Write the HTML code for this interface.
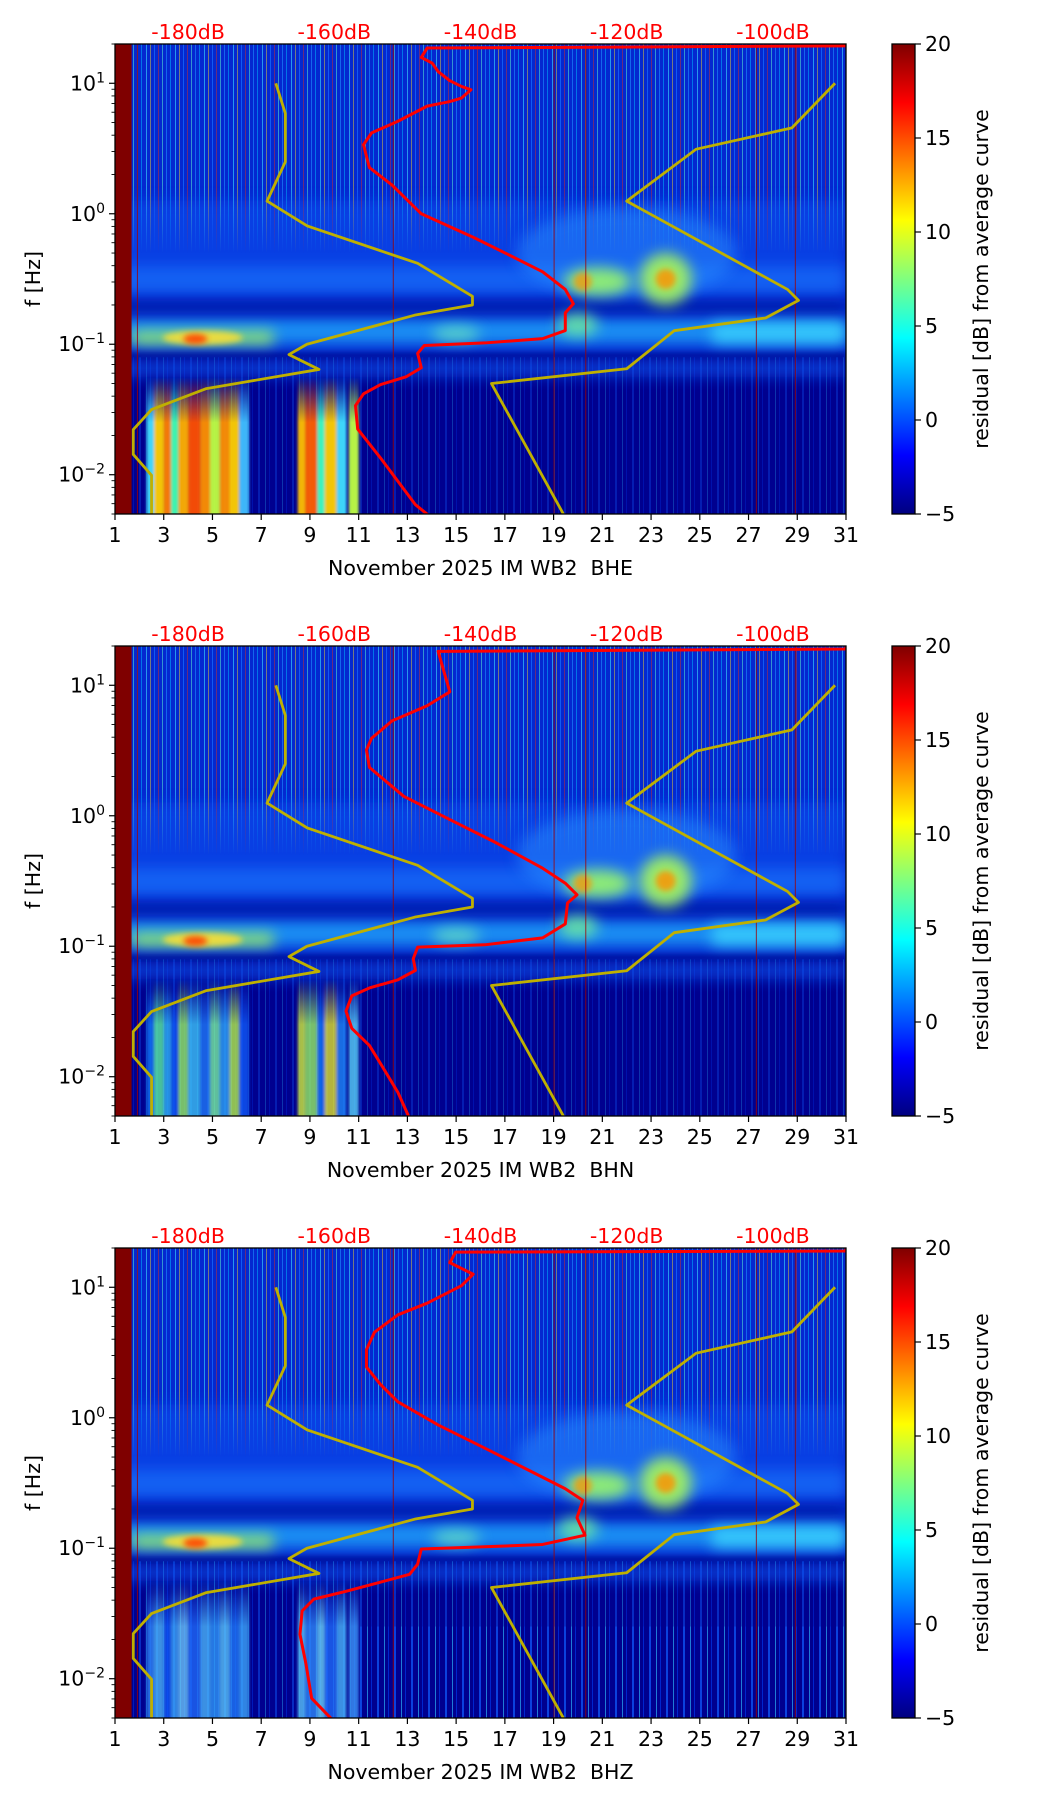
<!DOCTYPE html>
<html><head><meta charset="utf-8"><style>
html,body{margin:0;padding:0;background:#fff;}
svg{display:block;font-family:"DejaVu Sans","Liberation Sans",sans-serif;}
</style></head><body>
<svg id="fig" width="1052" height="1806" viewBox="0 0 1052 1806" xmlns="http://www.w3.org/2000/svg">
<defs>
  <linearGradient id="jet" x1="0" y1="1" x2="0" y2="0">
    <stop offset="0" stop-color="#00007f"/><stop offset="0.125" stop-color="#0000ff"/>
    <stop offset="0.375" stop-color="#00ffff"/><stop offset="0.625" stop-color="#ffff00"/>
    <stop offset="0.875" stop-color="#ff0000"/><stop offset="1" stop-color="#7f0000"/>
  </linearGradient>
  <pattern id="streaks" width="29" height="10" patternUnits="userSpaceOnUse">
    <rect x="1" y="0" width="1" height="10" fill="#40e0ff" opacity="0.6"/>
    <rect x="5" y="0" width="1" height="10" fill="#ffe020" opacity="0.45"/>
    <rect x="9" y="0" width="1" height="10" fill="#1a70ff" opacity="0.7"/>
    <rect x="13" y="0" width="1" height="10" fill="#ff3000" opacity="0.4"/>
    <rect x="17" y="0" width="1" height="10" fill="#60ffd0" opacity="0.5"/>
    <rect x="21" y="0" width="1" height="10" fill="#2090ff" opacity="0.6"/>
    <rect x="25" y="0" width="1" height="10" fill="#00c0ff" opacity="0.5"/>
  </pattern>
  <pattern id="lowstreaks" width="17" height="10" patternUnits="userSpaceOnUse">
    <rect x="3" y="0" width="2" height="10" fill="#1060ff" opacity="0.5"/>
    <rect x="10" y="0" width="1" height="10" fill="#30c0ff" opacity="0.45"/>
    <rect x="14" y="0" width="1" height="10" fill="#0030e0" opacity="0.6"/>
  </pattern>
  <filter id="blur6" filterUnits="userSpaceOnUse" x="0" y="0" width="1052" height="1806"><feGaussianBlur stdDeviation="7"/></filter>
  <filter id="blur3" filterUnits="userSpaceOnUse" x="0" y="0" width="1052" height="1806"><feGaussianBlur stdDeviation="3"/></filter>
  <filter id="blurx" filterUnits="userSpaceOnUse" x="0" y="0" width="1052" height="1806"><feGaussianBlur stdDeviation="1.2 0"/></filter>
</defs>
</svg>
<script>
// ---- data ----
const dayTicks = [1,3,5,7,9,11,13,15,17,19,21,23,25,27,29,31];
const dbTicks = [-180,-160,-140,-120,-100];
const yDecades = [-2,-1,0,1];
const cbTicks = [-5,0,5,10,15,20];
const channels = ["BHE","BHN","BHZ"];

const nlnmFreq = [10,5.88,2.5,1.25,0.806,0.417,0.233,0.2,0.167,0.1,0.0833,0.0641,0.0457,0.0316,0.0222,0.0143,0.0099,0.0047];
const nlnmDb   = [-168.0,-166.7,-166.7,-169.2,-163.7,-148.6,-141.1,-141.1,-149.0,-163.75,-166.2,-162.1,-177.5,-185.0,-187.5,-187.5,-185.0,-185.0];
const nhnmFreq = [10,4.55,3.125,1.25,0.263,0.217,0.159,0.127,0.0649,0.05,0.0047];
const nhnmDb   = [-91.5,-97.4,-110.5,-120.0,-98.0,-96.5,-101.0,-113.5,-120.0,-138.5,-128.4];

const bheLogF = [1.30,1.287,1.27,1.198,1.154,1.09,1.02,0.976,0.95,0.887,0.86,0.825,0.709,0.62,0.53,0.44,0.354,0.22,0.0,-0.18,-0.31,-0.445,-0.58,-0.69,-0.76,-0.895,-0.957,-0.99,-1.01,-1.07,-1.18,-1.25,-1.31,-1.38,-1.47,-1.65,-1.87,-2.05,-2.23,-2.32];
const bheDb   = [-90,-90,-147.3,-148.1,-146.6,-145.8,-144.2,-142.6,-141.3,-142.6,-144.2,-147.3,-151.3,-154.9,-156.0,-155.6,-155.2,-152.1,-148.1,-141.0,-136.3,-131.5,-128.4,-127.3,-128.4,-128.4,-131.5,-139.4,-147.7,-148.6,-148.1,-150.2,-153.7,-156.0,-157.1,-156.8,-153.7,-151.3,-148.9,-146.9];
const bhnLogF = [1.30,1.278,1.26,0.95,0.843,0.727,0.594,0.505,0.371,0.149,-0.029,-0.206,-0.402,-0.517,-0.606,-0.669,-0.829,-0.936,-0.989,-1.007,-1.096,-1.185,-1.257,-1.32,-1.38,-1.497,-1.63,-1.76,-1.897,-2.12,-2.32];
const bhnDb   = [-90,-90,-145.8,-144.2,-147.3,-152.1,-154.9,-155.6,-155.2,-150.5,-144.2,-137.9,-131.5,-128.4,-126.8,-128.1,-128.4,-131.5,-139.4,-148.6,-149.2,-148.9,-151.3,-155.2,-157.6,-158.4,-157.6,-155.2,-153.7,-151.3,-149.7];
const bhzLogF = [1.30,1.278,1.269,1.189,1.1,1.012,0.878,0.789,0.656,0.522,0.389,0.256,0.122,-0.055,-0.233,-0.411,-0.544,-0.633,-0.766,-0.9,-0.971,-0.989,-1.006,-1.122,-1.2,-1.26,-1.33,-1.39,-1.48,-1.66,-1.88,-2.15,-2.33];
const bhzDb   = [-90,-90,-143.4,-144.2,-141.0,-142.6,-147.3,-151.3,-154.5,-155.6,-155.6,-153.7,-151.3,-145.8,-139.4,-133.1,-128.4,-126.0,-126.8,-125.7,-131.5,-139.4,-148.1,-148.6,-149.7,-153.7,-158.4,-162.8,-164.4,-164.7,-163.9,-163.1,-160.0];
const redLogF = [bheLogF,bhnLogF,bhzLogF];
const redDb = [bheDb,bhnDb,bhzDb];

// low-frequency streak columns (day start, day end, colour) per panel
const hotStart = [2.3,2.6,3.0,3.3,3.6,4.0,4.5,4.9,5.3,5.7,6.1,8.5,8.8,9.3,9.6,10.1,10.6];
const hotEnd   = [2.6,3.0,3.3,3.6,4.0,4.5,4.9,5.3,5.7,6.1,6.5,8.8,9.3,9.6,10.1,10.5,11.0];
const hotColE  = ['#40e0ff','#ffd000','#ff8000','#40ffb0','#ffb000','#ff5000','#ff9000','#c0ff40','#ff9000','#ffd000','#40c0ff','#ffc000','#ff6000','#40ffc0','#ffd000','#40e0ff','#c0ff40'];
const hotColN  = ['#1080ff','#60ffa0','#30c0ff','#1060ff','#a0ff60','#40d0ff','#2080ff','#80ffa0','#30b0ff','#c0ff40','#1060ff','#e0ff30','#a0ff60','#1080ff','#f0f020','#2090ff','#60e0ff'];
const hotColZ  = ['#3090ff','#50c0ff','#1060ff','#40b0ff','#70d0ff','#2070ff','#50c0ff','#30a0ff','#60d0ff','#2080ff','#40b0ff','#60d0ff','#3090ff','#70e0ff','#2070ff','#50c0ff','#40a0ff'];
const hotCols = [hotColE,hotColN,hotColZ];

// ---- layout ----
const NS="http://www.w3.org/2000/svg";
const svg=document.getElementById('fig');
const defs=svg.querySelector('defs');
const AX_L=115, AX_R=846, AX_H=470, TOPS=[44,646,1248];
const LOGMIN=Math.log10(0.005), LOGMAX=Math.log10(20);
const CB_L=892, CB_R=915;
const FS=20.5;
function mk(tag,attrs,parent){const e=document.createElementNS(NS,tag);for(const k in attrs)e.setAttribute(k,attrs[k]);(parent||svg).appendChild(e);return e;}
function xDay(d){return AX_L+(d-1)/30*(AX_R-AX_L);}
function xDb(db){return AX_L+(db+190)/100*(AX_R-AX_L);}
function yLog(top,lf){return top+(LOGMAX-lf)/(LOGMAX-LOGMIN)*AX_H;}
function vmask(id,yA,yB,inv){
  const gr=mk('linearGradient',{id:id+'g',gradientUnits:'userSpaceOnUse',x1:0,y1:yA,x2:0,y2:yB},defs);
  mk('stop',{offset:0,'stop-color':inv?'#fff':'#000'},gr);mk('stop',{offset:1,'stop-color':inv?'#000':'#fff'},gr);
  const m=mk('mask',{id:id,maskUnits:'userSpaceOnUse',x:0,y:0,width:1052,height:1806},defs);
  mk('rect',{x:0,y:0,width:1052,height:1806,fill:'url(#'+id+'g)'},m);
}

TOPS.forEach((top,p)=>{
  const g=mk('g',{});
  
  
  const cid='clip'+p;
  const cp=mk('clipPath',{id:cid},g); mk('rect',{x:AX_L,y:top,width:AX_R-AX_L,height:AX_H},cp);
  const bg=mk('g',{'clip-path':'url(#'+cid+')'},g);
  
  
  const W=AX_R-AX_L, BOT=top+AX_H;
  vmask('topfade'+p,yLog(top,0.2),yLog(top,-0.3),true);
  vmask('lowfade'+p,yLog(top,-1.25),yLog(top,-1.6),false);
  mk('rect',{x:AX_L,y:top,width:W,height:AX_H,fill:'#0428d0'},bg);
  mk('rect',{x:AX_L,y:yLog(top,0.1),width:W,height:yLog(top,-0.6)-yLog(top,0.1),fill:'#1050f0',opacity:0.6,filter:'url(#blur6)'},bg);
  mk('rect',{x:AX_L,y:yLog(top,-1.06),width:W,height:BOT-yLog(top,-1.06)+20,fill:'#00068f',filter:'url(#blur3)'},bg);
  mk('rect',{x:AX_L,y:yLog(top,-1.1),width:W,height:BOT-yLog(top,-1.1),fill:'url(#lowstreaks)',opacity:p==2?0.9:0.6},bg);
  mk('rect',{x:AX_L,y:top,width:W,height:yLog(top,-0.35)-top,fill:'url(#streaks)',mask:'url(#topfade'+p+')'},bg);
  mk('rect',{x:AX_L,y:yLog(top,-0.8),width:W,height:yLog(top,-1.0)-yLog(top,-0.8),fill:'#20b0ff',opacity:0.75,filter:'url(#blur6)'},bg);
  mk('rect',{x:AX_L,y:yLog(top,-0.66),width:W,height:yLog(top,-0.76)-yLog(top,-0.66),fill:'#00108f',opacity:0.6,filter:'url(#blur6)'},bg);
  mk('rect',{x:AX_L,y:yLog(top,-0.4),width:W,height:yLog(top,-0.62)-yLog(top,-0.4),fill:'#1e7cff',opacity:0.55,filter:'url(#blur6)'},bg);
  mk('rect',{x:xDay(1.7),y:yLog(top,-0.9),width:xDay(7.5)-xDay(1.7),height:yLog(top,-1.0)-yLog(top,-0.9),fill:'#b0ff50',opacity:0.8,filter:'url(#blur6)'},bg);
  mk('ellipse',{cx:xDay(4.6),cy:yLog(top,-0.95),rx:40,ry:7,fill:'#ffe030',opacity:0.85,filter:'url(#blur3)'},bg);
  mk('ellipse',{cx:xDay(4.3),cy:yLog(top,-0.96),rx:12,ry:5,fill:'#ff4000',opacity:0.9,filter:'url(#blur3)'},bg);
  mk('ellipse',{cx:xDay(22),cy:yLog(top,-0.3),rx:110,ry:45,fill:'#2a90ff',opacity:0.5,filter:'url(#blur6)'},bg);
  mk('ellipse',{cx:xDay(20.8),cy:yLog(top,-0.52),rx:34,ry:14,fill:'#a0ff60',opacity:0.85,filter:'url(#blur6)'},bg);
  mk('ellipse',{cx:xDay(23.6),cy:yLog(top,-0.5),rx:26,ry:26,fill:'#b0ff50',opacity:0.85,filter:'url(#blur6)'},bg);
  mk('ellipse',{cx:xDay(23.6),cy:yLog(top,-0.5),rx:10,ry:10,fill:'#ff9000',opacity:0.8,filter:'url(#blur3)'},bg);
  mk('ellipse',{cx:xDay(20.2),cy:yLog(top,-0.52),rx:9,ry:9,fill:'#ff9000',opacity:0.7,filter:'url(#blur3)'},bg);
  mk('ellipse',{cx:xDay(20),cy:yLog(top,-0.85),rx:20,ry:12,fill:'#80ff90',opacity:0.7,filter:'url(#blur6)'},bg);
  mk('ellipse',{cx:xDay(15),cy:yLog(top,-0.92),rx:24,ry:8,fill:'#80ffb0',opacity:0.6,filter:'url(#blur6)'},bg);
  mk('rect',{x:xDay(25.5),y:yLog(top,-0.83),width:xDay(31)-xDay(25.5),height:22,fill:'#40e0ff',opacity:0.7,filter:'url(#blur6)'},bg);
  mk('rect',{x:AX_L,y:yLog(top,-1.12),width:W,height:yLog(top,-1.25)-yLog(top,-1.12),fill:'#1060ff',opacity:0.6,filter:'url(#blur6)'},bg);
  const hot=mk('g',{mask:'url(#lowfade'+p+')',filter:'url(#blurx)'},bg);
  
  
  hotStart.forEach((d,i)=>{
    mk('rect',{x:xDay(d),y:yLog(top,-1.2),width:xDay(hotEnd[i])-xDay(d),height:BOT-yLog(top,-1.2),fill:hotCols[p][i],opacity:p==0?0.95:0.75},hot);
  });
  if(p===2){
    mk('rect',{x:xDay(11),y:yLog(top,-1.6),width:xDay(31)-xDay(11),height:BOT-yLog(top,-1.6),fill:'url(#lowstreaks)',opacity:0.9,mask:'url(#lowfade2)'},bg);
  }
  mk('rect',{x:AX_L,y:top,width:xDay(1.68)-AX_L,height:AX_H,fill:'#7f0000'},bg);
  [1.9,12.4,19,20.3,27.3,28.9].forEach(d=>mk('rect',{x:xDay(d),y:top,width:1,height:AX_H,fill:'#a00000',opacity:0.8},bg));

  const lines=mk('g',{'clip-path':'url(#'+cid+')'},g);
  const nl=mk('polyline',{points:nlnmFreq.map((f,i)=>xDb(nlnmDb[i])+','+yLog(top,Math.log10(f))).join(' '),fill:'none',stroke:'#bfb000','stroke-width':2.8,'stroke-linejoin':'round'},lines);
  
  
  const nh=mk('polyline',{points:nhnmFreq.map((f,i)=>xDb(nhnmDb[i])+','+yLog(top,Math.log10(f))).join(' '),fill:'none',stroke:'#bfb000','stroke-width':2.8,'stroke-linejoin':'round'},lines);
  
  
  const rl=mk('polyline',{points:redLogF[p].map((lf,i)=>xDb(redDb[p][i])+','+yLog(top,lf)).join(' '),fill:'none',stroke:'#ff0000','stroke-width':3,'stroke-linejoin':'round'},lines);
  
  

  const fr=mk('rect',{x:AX_L,y:top,width:AX_R-AX_L,height:AX_H,fill:'none',stroke:'#000','stroke-width':1.3},g);
  
  
  dayTicks.forEach(d=>{
    const x=xDay(d);
    mk('line',{x1:x,x2:x,y1:BOT,y2:BOT+6,stroke:'#000','stroke-width':1.2},g);
    const t=mk('text',{x:x,y:BOT+28,'text-anchor':'middle','font-size':FS,fill:'#000'},g);
    t.textContent=d;
    
    
  });
  const xl=mk('text',{x:(AX_L+AX_R)/2,y:BOT+61,'text-anchor':'middle','font-size':FS,fill:'#000'},g);
  xl.textContent='November 2025 IM WB2\u00a0 '+channels[p];
  
  
  dbTicks.forEach(v=>{
    const t=mk('text',{x:xDb(v),y:top-5,'text-anchor':'middle','font-size':FS,fill:'#ff0000'},g);
    t.textContent=v+'dB';
    
    
  });
  yDecades.forEach(k=>{
    const y=yLog(top,k);
    mk('line',{x1:AX_L-6,x2:AX_L,y1:y,y2:y,stroke:'#000','stroke-width':1.2},g);
    const t=mk('text',{x:AX_L-10,y:y+7,'text-anchor':'end','font-size':FS,fill:'#000'},g);
    
    
    t.appendChild(document.createTextNode('10'));
    const s=mk('tspan',{dy:-8,'font-size':14},t); s.textContent=(k<0?'\u2212':'')+Math.abs(k);
  });
  for(let k=-3;k<=1;k++){for(let m=2;m<=9;m++){const lf=k+Math.log10(m);if(lf<LOGMIN||lf>LOGMAX)continue;const y=yLog(top,lf);mk('line',{x1:AX_L-3.5,x2:AX_L,y1:y,y2:y,stroke:'#000','stroke-width':0.9},g);}}
  const yl=mk('text',{x:0,y:0,transform:'translate(40,'+(top+AX_H/2)+') rotate(-90)','text-anchor':'middle','font-size':FS,fill:'#000'},g);
  yl.textContent='f [Hz]';
  
  
  const cb=mk('rect',{x:CB_L,y:top,width:CB_R-CB_L,height:AX_H,fill:'url(#jet)',stroke:'#000','stroke-width':1.3},g);
  
  
  cbTicks.forEach(v=>{
    const y=top+AX_H-(v+5)/25*AX_H;
    mk('line',{x1:CB_R,x2:CB_R+6,y1:y,y2:y,stroke:'#000','stroke-width':1.2},g);
    const t=mk('text',{x:CB_R+10,y:y+7,'font-size':FS,fill:'#000'},g);
    t.textContent=v<0?'\u2212'+Math.abs(v):v;
    
    
  });
  const cl=mk('text',{x:0,y:0,transform:'translate(988,'+(top+AX_H/2)+') rotate(-90)','text-anchor':'middle','font-size':FS,fill:'#000'},g);
  cl.textContent='residual [dB] from average curve';
  
  
});
</script>
</body></html>
